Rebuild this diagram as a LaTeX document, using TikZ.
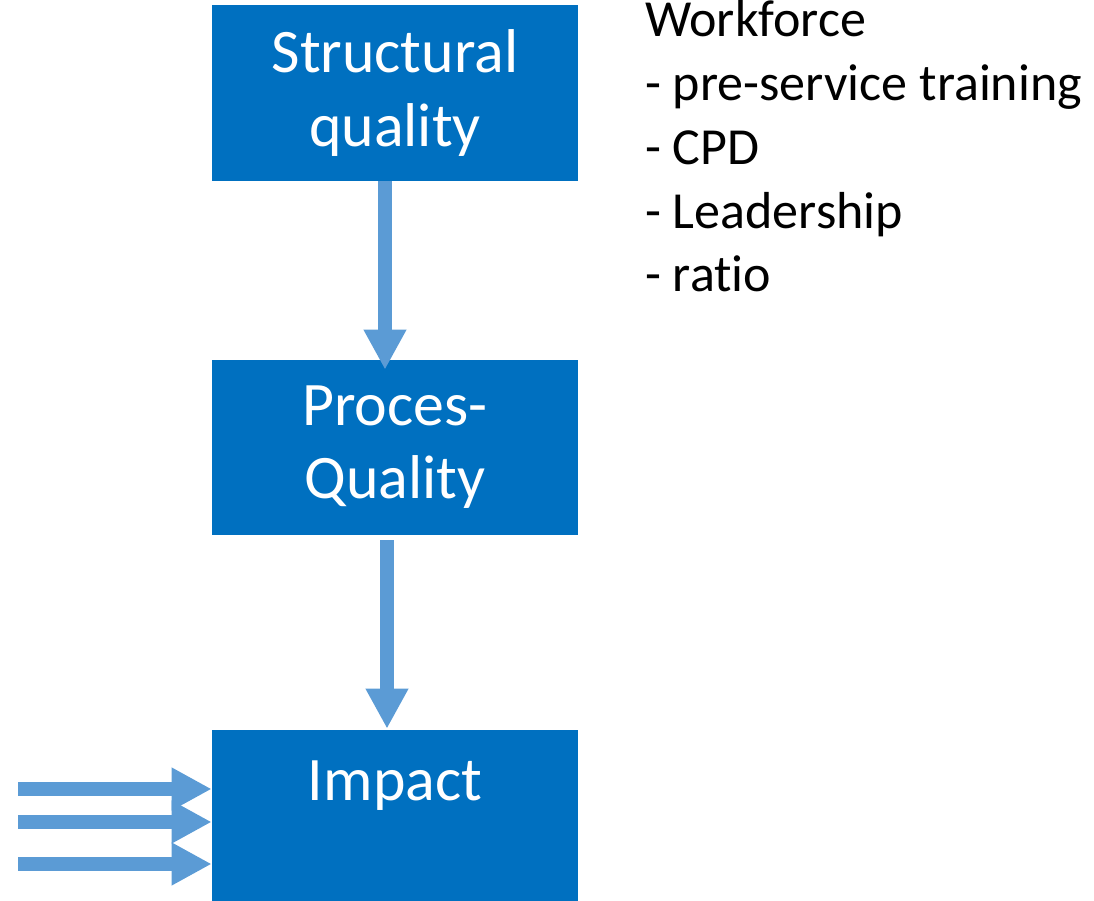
\documentclass[tikz,border=0pt]{standalone}
\usepackage{fontspec}
\setmainfont[Ligatures=NoCommon]{Carlito}
\usepackage{tikz}
\usetikzlibrary{arrows.meta,calc,positioning}
\definecolor{boxblue}{RGB}{0,112,192}
\definecolor{arrowblue}{RGB}{91,155,213}
\tikzset{qbox/.style={fill=boxblue,text=white,align=center,inner sep=0pt,
    minimum width=9.15cm,minimum height=4.375cm,
    font=\fontsize{44}{52}\selectfont}}
\tikzset{flow/.style={draw=arrowblue,line width=0.35cm,
    -{Triangle[width=1cm,length=1cm]}}}

\begin{document}
\begin{tikzpicture}[x=0.025cm,y=0.025cm]
\useasboundingbox (0,0) rectangle (1094,901);
\node[qbox] (sq) at (395,808) {Structural\\quality};
\node[qbox] (pq) at (395,453.5) {Proces-\\Quality};
\node[qbox] (im) at (395,83.5) {Impact\\\mbox{}};
\node[anchor=base west,align=left,inner sep=0pt,
  font=\fontsize{37}{45.4}\selectfont] (workforce) at (645,609)
  {Workforce\\- pre-service training\\- CPD\\- Leadership\\- ratio};
\draw[flow] ($(sq.south)+(-10,0)$) -- ($(pq.north)+(-10,-10)$);
\draw[flow] ($(pq.south)+(-8,-5)$) -- ($(im.north)+(-8,1)$);
\coordinate (in1) at (18,112);
\coordinate (in2) at (18,79);
\coordinate (in3) at (18,37);
\draw[flow] (in1) -- (in1 -| im.west);
\draw[flow] (in2) -- (in2 -| im.west);
\draw[flow] (in3) -- (in3 -| im.west);
\end{tikzpicture}
\end{document}
